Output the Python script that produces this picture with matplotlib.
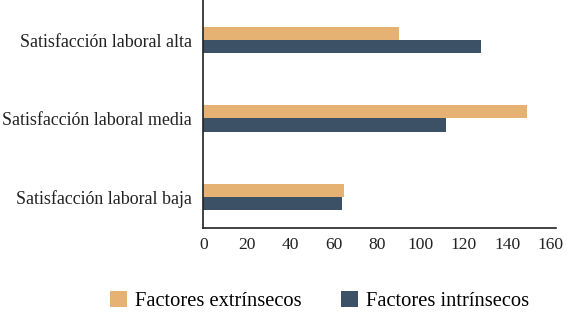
import numpy as np
import matplotlib
matplotlib.use("Agg")
import matplotlib.pyplot as plt

categories = ["Satisfacción laboral baja", "Satisfacción laboral media", "Satisfacción laboral alta"]
extrinsecos = [65, 149, 90]
intrinsecos = [64, 112, 128]
series_names = ["Factores extrínsecos", "Factores intrínsecos"]
xticks = [0, 20, 40, 60, 80, 100, 120, 140, 160]

plt.rcParams["font.family"] = ["Liberation Serif", "DejaVu Serif"]

fig = plt.figure(figsize=(5.68, 3.12), dpi=100)
ax = fig.add_axes([203.3 / 568, (312 - 228.3) / 312, (556 - 203.3) / 568, 228.3 / 312])

y = np.arange(len(categories))
h = 0.17
ax.barh(y + h / 2, extrinsecos, height=h, color="#E5B273", label=series_names[0])
ax.barh(y - h / 2, intrinsecos, height=h, color="#3D5166", label=series_names[1])

ax.set_xlim(0, 162.5)
ax.set_ylim(-0.4, 2.51)
ax.set_xticks(xticks)
ax.set_yticks(y)
ax.set_yticklabels(categories, fontsize=12.9)
ax.tick_params(axis="x", length=0, labelsize=12.6, colors="#222222", pad=6)
ax.tick_params(axis="y", length=0, colors="#222222", pad=8)
for s in ["top", "right"]:
    ax.spines[s].set_visible(False)
for s in ["left", "bottom"]:
    ax.spines[s].set_color("#222222")
    ax.spines[s].set_linewidth(1.2)

fig.legend(loc="center", bbox_to_anchor=(0.563, 0.035), ncol=2, frameon=False,
           fontsize=14.8, handlelength=0.83, handleheight=0.83, columnspacing=1.9,
           handletextpad=0.4, borderpad=0)

fig.savefig("out.png", dpi=100)
